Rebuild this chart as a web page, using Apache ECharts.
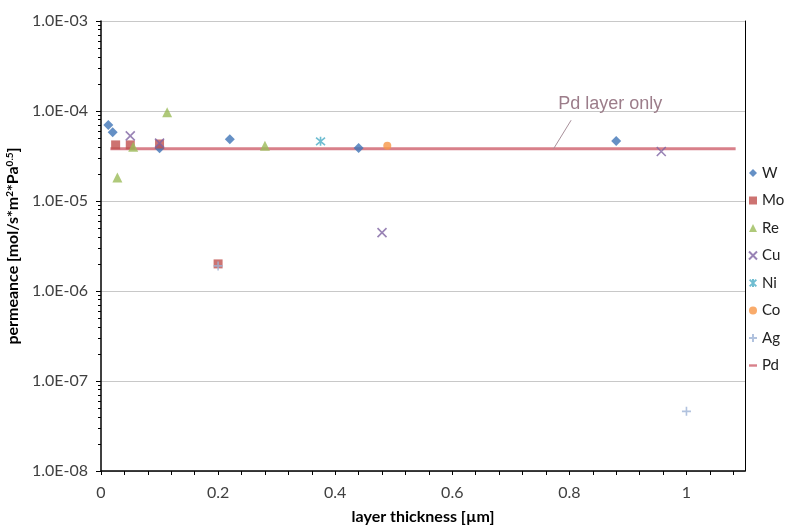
<!DOCTYPE html>
<html><head><meta charset="utf-8">
<script src="https://cdn.jsdelivr.net/npm/echarts@6/dist/echarts.min.js"></script>
<style>html,body{margin:0;padding:0;background:#fff}#c{width:792px;height:527px}</style>
</head><body><div id="c"></div><script>
// ---- data ----
const seriesNames = ['W', 'Mo', 'Re', 'Cu', 'Ni', 'Co', 'Ag', 'Pd'];
const W_x = [0.0125, 0.02, 0.1, 0.22, 0.44, 0.88];
const W_y = [7.0e-5, 5.8e-5, 3.85e-5, 4.85e-5, 3.88e-5, 4.65e-5];
const Mo_x = [0.025, 0.05, 0.1, 0.2];
const Mo_y = [4.2e-5, 4.2e-5, 4.3e-5, 2.0e-6];
const Re_x = [0.028, 0.055, 0.113, 0.28];
const Re_y = [1.83e-5, 4.0e-5, 9.7e-5, 4.1e-5];
const Cu_x = [0.05, 0.1, 0.48, 0.957];
const Cu_y = [5.3e-5, 4.4e-5, 4.45e-6, 3.55e-5];
const Ni_x = [0.375];
const Ni_y = [4.6e-5];
const Co_x = [0.489];
const Co_y = [4.1e-5];
const Ag_x = [0.2, 1.0];
const Ag_y = [1.9e-6, 4.6e-8];
const Pd_x = [0.016, 1.084];
const Pd_y = [3.8e-5, 3.8e-5];
const xTickValues = [0, 0.2, 0.4, 0.6, 0.8, 1];
const xTickLabels = ['0', '0.2', '0.4', '0.6', '0.8', '1'];
const yTickValues = [1e-8, 1e-7, 1e-6, 1e-5, 1e-4, 1e-3];
const yTickLabels = ['1.0E-08', '1.0E-07', '1.0E-06', '1.0E-05', '1.0E-04', '1.0E-03'];
const annotationText = 'Pd layer only';
const annotationTextAt = [0.87, 1.19e-4];
const annotationLeader = [[0.803, 7.9e-5], [0.773, 3.8e-5]];

// ---- styling ----
const colors = {W:'#3F74B6', Mo:'#C0504D', Re:'#9BBB59', Cu:'#8064A2', Ni:'#4BACC6', Co:'#F79646', Ag:'#9DB3D6', Pd:'#D8808A'};
const FONT = 'Lato';
const pairs = (xs, ys) => xs.map((x, i) => [x, ys[i]]);

// decoration ticks (axis ornaments only)
const xMinor = [];
for (let i = 0; i <= 27; i++) xMinor.push(+(i * 0.04).toFixed(2));
const yMinor = [];
for (let e = -8; e < -3; e++) for (let k = 2; k <= 9; k++) yMinor.push(e + Math.log10(k));

const strokeSym = (name, path, size) => ({
  name, type: 'scatter', data: null, symbol: 'path://' + path, symbolSize: size,
  itemStyle: {color: 'rgba(0,0,0,0)', borderColor: colors[name], borderWidth: 1.6}
});

const chart = echarts.init(document.getElementById('c'), null, {renderer: 'canvas'});
const sCu = strokeSym('Cu', 'M0,0L10,10M10,0L0,10', 9); sCu.data = pairs(Cu_x, Cu_y);
const sNi = strokeSym('Ni', 'M0,0L10,10M10,0L0,10M5,-1L5,11', 9); sNi.data = pairs(Ni_x, Ni_y);
const sAg = strokeSym('Ag', 'M5,0L5,10M0,5L10,5', 9); sAg.data = pairs(Ag_x, Ag_y);

const option = {
  animation: false,
  backgroundColor: '#fff',
  textStyle: {fontFamily: FONT},
  grid: {left: 101, right: 47, top: 21, bottom: 56, containLabel: false, outerBoundsMode: 'none'},
  legend: {
    orient: 'vertical', left: 748, top: 165, padding: 0, itemWidth: 8, itemHeight: 8, itemGap: 11.5,
    textStyle: {fontFamily: FONT, fontSize: 15, color: '#222', lineHeight: 16},
    data: [
      {name: 'W', icon: 'diamond'},
      {name: 'Mo', icon: 'rect'},
      {name: 'Re', icon: 'triangle'},
      {name: 'Cu'}, {name: 'Ni'},
      {name: 'Co', icon: 'circle'},
      {name: 'Ag'},
      {name: 'Pd', icon: 'path://M0,4h10v3h-10z'}
    ]
  },
  xAxis: [{
    type: 'value', min: 0, max: 1.1, interval: 0.2,
    axisLine: {show: true, onZero: false, lineStyle: {color: '#000', width: 1.5}},
    axisTick: {show: true, customValues: xMinor, length: 4, lineStyle: {color: '#000'}},
    axisLabel: {customValues: xTickValues, formatter: v => xTickLabels[Math.round(v / 0.2)],
      fontFamily: FONT, fontSize: 16, color: '#404040', margin: 14},
    splitLine: {show: false},
    name: 'layer thickness [µm]', nameLocation: 'middle', nameGap: 38,
    nameTextStyle: {fontFamily: FONT, fontSize: 16, fontWeight: 'bold', color: '#000'}
  }],
  yAxis: [{
    type: 'log', logBase: 10, min: 1e-8, max: 1e-3,
    axisLine: {show: true, onZero: false, lineStyle: {color: '#000', width: 1.5}},
    axisTick: {show: true, length: 5, lineStyle: {color: '#000'}},
    axisLabel: {formatter: v => yTickLabels[Math.round(Math.log10(v)) + 8],
      fontFamily: FONT, fontSize: 16, color: '#404040', margin: 13},
    splitLine: {show: true, lineStyle: {color: '#C8C8C8', width: 1}},
    name: 'permeance [mol/s*m{s|2}*Pa{s|0.5}]', nameLocation: 'middle', nameGap: 70, nameRotate: 90,
    nameTextStyle: {fontFamily: FONT, fontSize: 16, fontWeight: 'bold', color: '#000',
      rich: {s: {fontFamily: FONT, fontSize: 10, fontWeight: 'bold', color: '#000', verticalAlign: 'top', lineHeight: 12}}}
  }, {
    type: 'value', min: -8, max: -3, position: 'left',
    axisLine: {show: false}, axisLabel: {show: false}, splitLine: {show: false},
    axisTick: {show: true, customValues: yMinor, length: 3, lineStyle: {color: '#000'}}
  }, {
    type: 'value', min: 0, max: 1, position: 'right',
    axisLine: {show: true, lineStyle: {color: '#000', width: 1}}, axisLabel: {show: false},
    axisTick: {show: false}, splitLine: {show: false}
  }],
  series: [
    {name: 'Pd', type: 'line', data: pairs(Pd_x, Pd_y), symbol: 'none', z: 1,
      lineStyle: {color: colors.Pd, width: 3}, itemStyle: {color: colors.Pd},
      markLine: {silent: true, symbol: ['none', 'none'], label: {show: false},
        lineStyle: {color: '#A8909A', width: 1, type: 'solid'},
        data: [[{coord: annotationLeader[0]}, {coord: annotationLeader[1]}]]},
      markPoint: {silent: true, symbol: 'circle', symbolSize: 1, itemStyle: {color: 'rgba(0,0,0,0)'},
        label: {show: true, position: 'inside', formatter: annotationText, color: '#9C7D8A',
          fontFamily: 'Liberation Sans', fontSize: 18},
        data: [{coord: annotationTextAt}]}
    },
    {name: 'W', type: 'scatter', data: pairs(W_x, W_y), symbol: 'diamond', symbolSize: 10, itemStyle: {color: colors.W}, z: 3},
    {name: 'Mo', type: 'scatter', data: pairs(Mo_x, Mo_y), symbol: 'rect', symbolSize: 9, itemStyle: {color: colors.Mo}, z: 3},
    {name: 'Re', type: 'scatter', data: pairs(Re_x, Re_y), symbol: 'triangle', symbolSize: 10, itemStyle: {color: colors.Re}, z: 3},
    Object.assign(sCu, {z: 4}),
    Object.assign(sNi, {z: 4}),
    {name: 'Co', type: 'scatter', data: pairs(Co_x, Co_y), symbol: 'circle', symbolSize: 8, itemStyle: {color: colors.Co}, z: 3},
    Object.assign(sAg, {z: 4})
  ]
};
chart.setOption(option);
</script></body></html>
